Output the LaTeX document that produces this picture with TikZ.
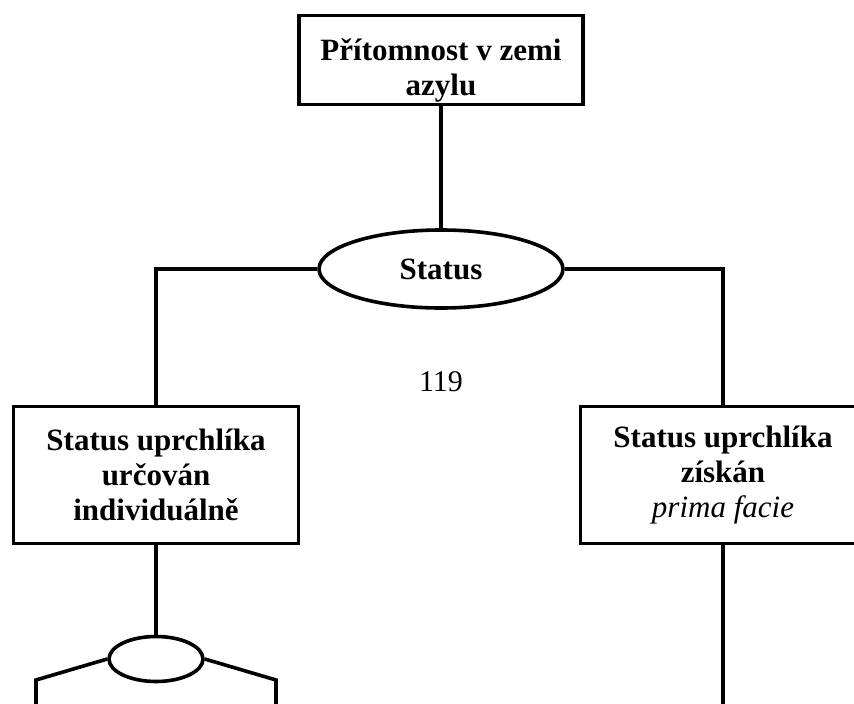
\documentclass[tikz,border=0pt]{standalone}
\usepackage{fontspec}
\setmainfont{Liberation Serif}
\usetikzlibrary{shapes.geometric}
\begin{document}
\begin{tikzpicture}[x=1pt,y=-1pt]
\tikzset{
  box/.style={draw, line width=3.6pt, inner sep=0pt, align=center,
    font=\fontsize{31}{35}\selectfont\bfseries},
  oval/.style={draw, ellipse, line width=3.6pt, inner sep=0pt,
    font=\fontsize{31}{35}\selectfont\bfseries},
  link/.style={line width=3.6pt},
  pagenum/.style={inner sep=0pt, font=\fontsize{30}{34}\selectfont}
}
\clip (0,0) rectangle (854,704);
\fill[white] (0,0) rectangle (854,704);
\node[box, minimum width=284pt, minimum height=89pt] (top) at (441,60)
  {\rule{0pt}{42pt}Přítomnost v zemi\\azylu};
\node[oval, minimum width=244pt, minimum height=78pt] (status) at (441,269) {Status};
\node[pagenum] (pg) at (441,382) {119};
\node[box, minimum width=285pt, minimum height=137pt] (left) at (156,475)
  {Status uprchlíka\\určován\\individuálně};
\node[box, minimum width=285pt, minimum height=137pt] (right) at (723,475)
  {Status uprchlíka\\získán\\\textit{\mdseries prima facie}};
\node[oval, minimum width=94pt, minimum height=45pt] (small) at (156,659) {};
\coordinate (la) at (36,680);
\coordinate (lb) at (36,712);
\coordinate (ra) at (276,680);
\coordinate (rb) at (276,712);
\coordinate (rr) at (723,712);
\draw[link] (top.south) -- (status.north);
\draw[link] (status.west) -| (left.north);
\draw[link] (status.east) -| (right.north);
\draw[link] (left.south) -- (small.north);
\draw[link] (small.west) -- (la) -- (lb);
\draw[link] (small.east) -- (ra) -- (rb);
\draw[link] (right.south) -- (rr);
\end{tikzpicture}
\end{document}
